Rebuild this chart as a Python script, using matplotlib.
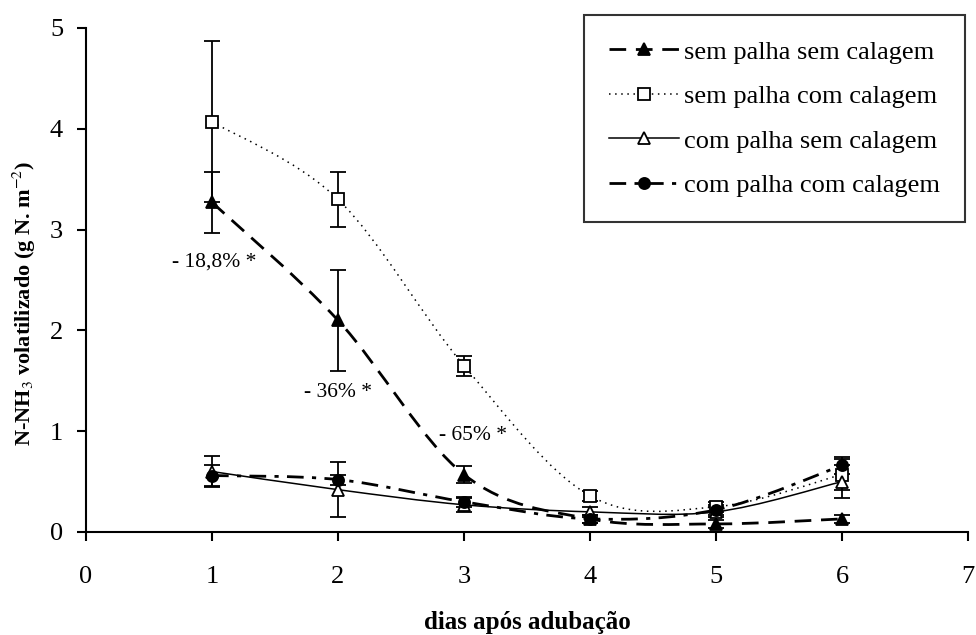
#!/usr/bin/env python3
import numpy as np
import matplotlib
matplotlib.use("Agg")
import matplotlib.pyplot as plt
from matplotlib.path import Path
from matplotlib.patches import PathPatch
from matplotlib.lines import Line2D

plt.rcParams['font.family'] = ['Liberation Serif', 'DejaVu Serif']
plt.rcParams['mathtext.fontset'] = 'stix'

# data
dias = [1, 2, 3, 4, 5, 6]
labels = ["sem palha sem calagem", "sem palha com calagem",
          "com palha sem calagem", "com palha com calagem"]
sp_sc = [3.27, 2.10, 0.57, 0.13, 0.08, 0.13]
sp_sc_err = [0.30, 0.50, 0.08, 0.04, 0.04, 0.04]
sp_cc = [4.07, 3.30, 1.65, 0.36, 0.25, 0.57]
sp_cc_err = [0.80, 0.27, 0.10, 0.05, 0.05, 0.15]
cp_sc = [0.60, 0.42, 0.27, 0.20, 0.20, 0.50]
cp_sc_err = [0.15, 0.27, 0.07, 0.05, 0.05, 0.16]
cp_cc = [0.56, 0.52, 0.30, 0.13, 0.22, 0.66]
cp_cc_err = [0.10, 0.05, 0.05, 0.04, 0.05, 0.08]
notas = ["- 18,8% *", "- 36% *", "- 65% *"]
notas_xy = [(1.02, 2.68), (2.0, 1.38), (3.07, 0.96)]

def smooth_path(x, y):
	# excel-like smoothed line: cubic bezier through the points
	p = np.column_stack([x, y]).astype(float)
	n = len(p)
	verts = [p[0]]
	codes = [Path.MOVETO]
	for i in range(n - 1):
		p0 = p[i - 1] if i > 0 else p[i]
		p3 = p[i + 2] if i + 2 < n else p[i + 1]
		c1 = p[i] + (p[i + 1] - p0) / 6.0
		c2 = p[i + 1] - (p3 - p[i]) / 6.0
		verts += [c1, c2, p[i + 1]]
		codes += [Path.CURVE4] * 3
	return Path(verts, codes)

fig = plt.figure(figsize=(9.76, 6.35), dpi=100)
ax = fig.add_axes([86/976, 1 - 532/635, (968-86)/976, (532-28)/635])

series = [
	(sp_sc, sp_sc_err, (0, (6, 3.5)), 2.0, '^', 'black', 9),
	(sp_cc, sp_cc_err, (0, (1, 3)), 1.1, 's', 'white', 8),
	(cp_sc, cp_sc_err, '-', 1.1, '^', 'white', 9),
	(cp_cc, cp_cc_err, (0, (6, 3, 1.5, 3)), 2.0, 'o', 'black', 8),
]

handles = []
for (vals, err, ls, lw, mk, fc, ms), lab in zip(series, labels):
	patch = PathPatch(smooth_path(dias, vals), fill=False, edgecolor='black',
	                  linestyle=ls, linewidth=lw, capstyle='butt', zorder=2)
	ax.add_patch(patch)
	ax.errorbar(dias, vals, yerr=err, fmt='none', ecolor='black',
	            elinewidth=1.3, capsize=6, capthick=1.3, zorder=3)
	ax.plot(dias, vals, linestyle='none', marker=mk, markersize=ms,
	        markerfacecolor=fc, markeredgecolor='black', markeredgewidth=1.3, zorder=4)
	handles.append(Line2D([], [], color='black', linestyle=ls, linewidth=lw,
	                      marker=mk, markersize=ms, markerfacecolor=fc,
	                      markeredgecolor='black', markeredgewidth=1.3))

for txt, (x, y) in zip(notas, notas_xy):
	ax.text(x, y, txt, ha='center', va='center', fontsize=15.5)

ax.set_xlim(0, 7)
ax.set_ylim(0, 5)
ax.set_xticks(range(0, 8))
ax.set_yticks(range(0, 6))
ax.tick_params(direction='out', length=6.5, width=1.5, labelsize=19)
ax.tick_params(axis='x', pad=18)
ax.tick_params(axis='y', pad=10)
for s in ['top', 'right']:
	ax.spines[s].set_visible(False)
for s in ['left', 'bottom']:
	ax.spines[s].set_linewidth(1.5)

fig.text(527/976, 1 - 622/635, "dias após adubação", ha='center', va='center',
         fontsize=18, fontweight='bold')
fig.text(24/976, 1 - 303/635, r"N-NH$_3$ volatilizado (g N. m$^{-2}$)",
         rotation=90, ha='center', va='center', fontsize=16, fontweight='bold')

leg = ax.legend(handles, labels, loc='upper right',
                bbox_to_anchor=(965/976, 1 - 15/635), bbox_transform=fig.transFigure,
                borderaxespad=0, fontsize=19, frameon=True, fancybox=False,
                handlelength=2.65, labelspacing=0.8, borderpad=0.95, handletextpad=0.2)
leg.get_frame().set_edgecolor('black')
leg.get_frame().set_linewidth(1.5)

plt.savefig("out.png", dpi=100)
plt.close()
